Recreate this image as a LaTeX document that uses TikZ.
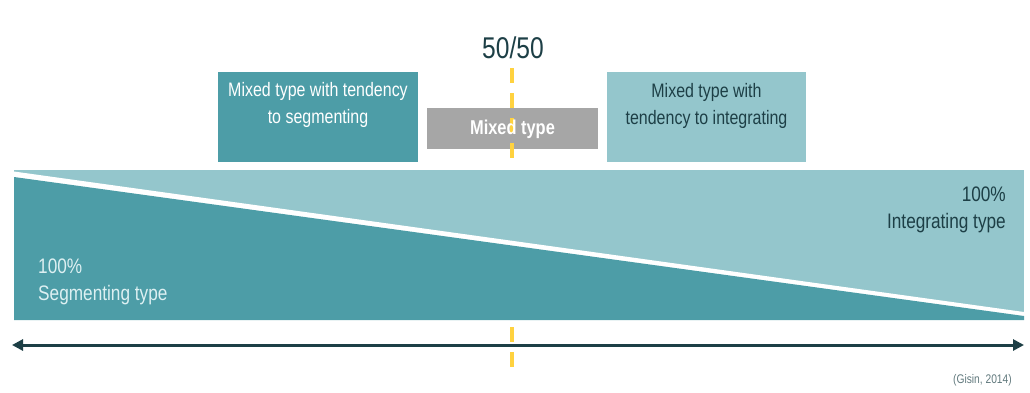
\documentclass[tikz,border=0pt]{standalone}
\usepackage{fontspec}
\setmainfont{Liberation Sans}[FakeStretch=0.82]
\usetikzlibrary{arrows.meta}
\definecolor{darkteal}{HTML}{4D9DA7}
\definecolor{lightteal}{HTML}{94C6CC}
\definecolor{greybox}{HTML}{A6A6A6}
\definecolor{ink}{HTML}{1D3F46}
\definecolor{yel}{HTML}{FFD23F}
\definecolor{paletext}{HTML}{DDF0F2}
\begin{document}
\begin{tikzpicture}[x=1pt,y=-1pt,
  box/.style={draw=none,inner sep=0pt,align=center,anchor=north west},
  boxtext/.style={font=\fontsize{19.5}{26.5}\selectfont,inner sep=0pt},
  bigtext/.style={font=\fontsize{21}{27.5}\selectfont,inner sep=0pt},
  ydash/.style={draw=yel,line width=3.5pt,dash pattern=on 15pt off 10pt}]
\useasboundingbox (0,0) rectangle (1030,392);
% background triangles
\fill[lightteal] (14,170) rectangle (1024,320);
\fill[white] (14,171.5) -- (1024,312) -- (1024,320) -- (14,320) -- cycle;
\fill[darkteal] (14,177) -- (1024,316) -- (1024,320) -- (14,320) -- cycle;
% boxes
\node[box,fill=darkteal,minimum width=200pt,minimum height=90pt] (seg) at (218,72) {};
\node[boxtext,text=white,align=center] (segt) at (318,105) {Mixed type with tendency\\to segmenting};
\node[box,fill=lightteal,minimum width=199pt,minimum height=90pt] (int) at (607,72) {};
\node[boxtext,text=ink,align=center] (intt) at (706.5,106) {Mixed type with\\tendency to integrating};
\node[box,fill=greybox,minimum width=171pt,minimum height=41pt] (mix) at (427,108) {};
% yellow dashed lines
\coordinate (ytop) at (512,68);
\coordinate (ybot) at (512,166);
\draw[ydash] (ytop) -- (ybot);
\coordinate (ytop2) at (512,327);
\coordinate (ybot2) at (512,372);
\draw[ydash] (ytop2) -- (ybot2);
\node[text=white,font=\fontsize{20}{22}\selectfont\bfseries] (mixt) at (512.5,129) {Mixed type};
% 50/50
\node[text=ink,font=\fontsize{30}{32}\selectfont] (fifty) at (513,48) {50/50};
% labels
\node[bigtext,text=paletext,align=left,anchor=west] (segl) at (38,282) {100\%\\Segmenting type};
\node[bigtext,text=ink,align=right,anchor=east] (intl) at (1006,210) {100\%\\Integrating type};
% axis arrow
\coordinate (al) at (12,345);
\coordinate (ar) at (1024,345);
\draw[ink,line width=3pt,{Triangle[length=11pt,width=11pt]}-{Triangle[length=11pt,width=11pt]}] (al) -- (ar);
% source
\node[text=ink!70,font=\fontsize{12.5}{14}\selectfont,anchor=east,inner sep=0pt] (src) at (1012,380) {(Gisin, 2014)};
\end{tikzpicture}
\end{document}
